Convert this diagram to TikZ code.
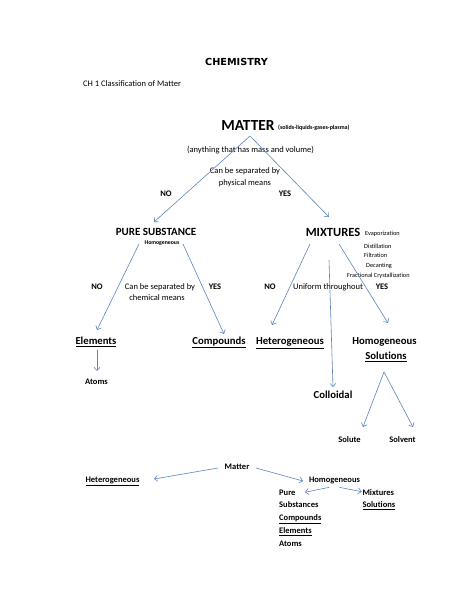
\documentclass[tikz,border=0pt]{standalone}
\usepackage{fontspec}
\setmainfont{Carlito}[Ligatures=NoCommon]
\newfontfamily\titlefont{DejaVu Sans}
\usetikzlibrary{arrows.meta}
\definecolor{arrowblue}{HTML}{5B86C0}
\newcommand{\myul}[1]{\underline{#1}}
\tikzset{
  conn/.style={draw=arrowblue, line width=0.6pt, -{Straight Barb[length=3.2pt,width=6pt]}},
  txt/.style={inner sep=0pt, anchor=base, font=\fontsize{8.5}{10}\selectfont},
  btxt/.style={inner sep=0pt, anchor=base, font=\fontsize{8.5}{10}\selectfont\bfseries},
  smalltxt/.style={inner sep=0pt, anchor=base west, font=\fontsize{6.3}{7}\selectfont},
  bigbold/.style={inner sep=0pt, anchor=base, font=\fontsize{10.7}{12}\selectfont\bfseries},
  headbold/.style={inner sep=0pt, anchor=base, font=\fontsize{11}{13}\selectfont\bfseries},
}
\begin{document}
\begin{tikzpicture}[x=1pt,y=-1pt]
\useasboundingbox[fill=white] (0,0) rectangle (474,613);

% title
\node[inner sep=0pt, anchor=base, font=\titlefont\bfseries\fontsize{9.7}{11}\selectfont] (title) at (236.5,65) {CHEMISTRY};
\node[txt, anchor=base west] (chapter) at (83,86) {CH 1 Classification of Matter};

% top level
\node[inner sep=0pt, anchor=base, font=\fontsize{15.4}{18}\selectfont\bfseries] (matter) at (248,130) {MATTER};
\node[inner sep=0pt, anchor=base west, font=\fontsize{6}{7}\selectfont\bfseries] (states) at (278,129.5) {(solids-liquids-gases-plasma)};
\node[txt] (def) at (250.5,152.5) {(anything that has mass and volume)};
\node[txt] (phys1) at (245,173.5) {Can be separated by};
\node[txt] (phys2) at (245,185) {physical means};
\node[btxt] (no1) at (166,196) {NO};
\node[btxt] (yes1) at (285,196) {YES};

\coordinate (apex) at (250,136);
\coordinate (psend) at (154,222);
\coordinate (mxend) at (329,217);
\draw[conn] (apex) -- (psend);
\draw[conn] (apex) -- (mxend);

% pure substance branch
\node[headbold] (pure) at (156,235.5) {PURE SUBSTANCE};
\node[inner sep=0pt, anchor=base, font=\fontsize{5.8}{7}\selectfont\bfseries] (pshomo) at (162,244) {Homogeneous};
\node[btxt] (no2) at (97,289) {NO};
\node[txt] (chem1) at (160,289) {Can be separated by};
\node[txt] (chem2) at (157,300) {chemical means};
\node[btxt] (yes2) at (215,289) {YES};

\coordinate (psl) at (139,244);
\coordinate (psr) at (183,244);
\coordinate (elend) at (97,330);
\coordinate (coend) at (224,334);
\draw[conn] (psl) -- (elend);
\draw[conn] (psr) -- (coend);

\node[bigbold] (elements) at (96,344.5) {\myul{Elements}};
\node[bigbold] (compounds) at (219,344.5) {\myul{Compounds}};
\coordinate (elstart) at (97,350);
\coordinate (atend) at (97,371);
\draw[conn] (elstart) -- (atend);
\node[btxt] (atoms) at (96.5,384) {Atoms};

% mixtures branch
\node[inner sep=0pt, anchor=base, font=\fontsize{12.5}{15}\selectfont\bfseries] (mixtures) at (333,236) {MIXTURES};
\node[smalltxt] (evap) at (365,235) {Evaporization};
\node[smalltxt] (dist) at (364,248.5) {Distillation};
\node[smalltxt] (filt) at (364,257.5) {Filtration};
\node[smalltxt] (deca) at (366,267.5) {Decanting};
\node[smalltxt] (frac) at (347,277.5) {Fractional Crystallization};

\node[btxt] (no3) at (270,289) {NO};
\node[txt] (unif) at (328,289) {Uniform throughout};
\node[btxt] (yes3) at (382,289) {YES};

\coordinate (mxl) at (310,244);
\coordinate (mxm) at (329,260);
\coordinate (mxr) at (339,244);
\coordinate (heend) at (272,325);
\coordinate (clend) at (333,387);
\coordinate (hoend) at (388,323);
\draw[conn] (mxl) -- (heend);
\draw[conn] (mxm) -- (clend);
\draw[conn] (mxr) -- (hoend);

\node[bigbold] (hetero) at (290,344.5) {\myul{Heterogeneous}};
\node[bigbold] (homo) at (384.5,344.5) {Homogeneous};
\node[bigbold] (solutions) at (386,359.5) {\myul{Solutions}};
\node[bigbold] (colloidal) at (333,398.5) {Colloidal};

\coordinate (solapex) at (384,372);
\coordinate (suend) at (363,427);
\coordinate (svend) at (413,427);
\draw[conn] (solapex) -- (suend);
\draw[conn] (solapex) -- (svend);
\node[btxt] (solute) at (349.5,442) {Solute};
\node[btxt] (solvent) at (402.5,442) {Solvent};

% summary at bottom
\node[btxt] (matter2) at (237,469) {Matter};
\node[btxt] (hetero2) at (112.5,482) {\myul{Heterogeneous}};
\node[btxt] (homo2) at (334.5,482) {Homogeneous};
\coordinate (m2l) at (218,468);
\coordinate (m2r) at (256,468);
\coordinate (h2end) at (154,479);
\coordinate (o2end) at (303,481);
\draw[conn] (m2l) -- (h2end);
\draw[conn] (m2r) -- (o2end);

\node[btxt, anchor=base west] (pure2) at (279,495) {Pure};
\node[btxt, anchor=base west] (subs2) at (279,507.5) {Substances};
\node[btxt, anchor=base west] (comp2) at (279,520.7) {\myul{Compounds}};
\node[btxt, anchor=base west] (elem2) at (279,533.7) {\myul{Elements}};
\node[btxt, anchor=base west] (atom2) at (279,546.7) {Atoms};
\node[btxt, anchor=base west] (mix2) at (362.3,495) {Mixtures};
\node[btxt, anchor=base west] (sol2) at (362.3,507.5) {\myul{Solutions}};

\coordinate (o2l) at (329.3,487.3);
\coordinate (o2r) at (339.3,487.3);
\coordinate (p2end) at (305,492.3);
\coordinate (x2end) at (361.7,491.7);
\draw[conn] (o2l) -- (p2end);
\draw[conn] (o2r) -- (x2end);
\end{tikzpicture}
\end{document}
